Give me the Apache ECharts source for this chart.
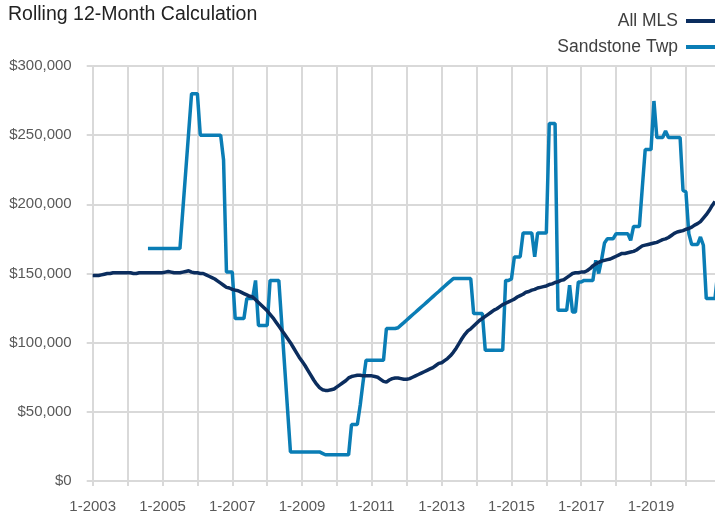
<!DOCTYPE html>
<html>
<head>
<meta charset="utf-8">
<script src="https://cdn.jsdelivr.net/npm/echarts@6/dist/echarts.min.js"></script>
<style>html,body{margin:0;padding:0;background:#fff}#c{width:715px;height:515px}</style>
</head>
<body>
<div id="c"></div>
<script>
// Monthly categories 1-2003 .. 11-2020
var startYear = 2003, monthCount = 215;
var categories = [];
for (var k = 0; k < monthCount; k++) {
  categories.push(((k % 12) + 1) + '-' + (startYear + Math.floor(k / 12)));
}

// All MLS rolling 12-month values (thousands of $)
var allMLS = [
  148.5,148.5,148.5,149,149.5,150,150,150.5,150.5,150.5,150.5,150.5,
  150.5,150.5,150,150,150.5,150.5,150.5,150.5,150.5,150.5,150.5,150.5,
  150.5,151,151.5,151,150.5,150.5,150.5,151,151.5,152,151,150.5,
  150.5,150,150,149,148,147,146,144.5,143,141.5,140,139.5,
  138.5,138,137.5,136.5,135.5,134.5,133.5,133,131,129,127,125,
  123,120.5,118,115,112,109,106,103,100,96.5,93,89.5,
  86.5,83.5,80,76.5,73,70,67.5,66,65.5,65.5,66,66.5,
  68,69.5,71,72.5,74.5,75.5,76,76.5,76.5,76,76,76,
  76,75.5,75,73.5,72,71.5,73,74,74.5,74.5,74,73.5,
  73.5,74,75,76,77,78,79,80,81,82,83.5,85,
  85.5,87,88.5,90.5,93,96,99.5,103,106,108.5,110,112,
  114,116,117.5,119,120.5,122,123.5,124.5,126,127.5,128.5,129.5,
  130.5,131.5,133,134,135,136.5,137,138,138.5,139.5,140,140.5,
  141,142,142.5,143.5,144,145,145.5,147,148.5,150,150.5,150.5,
  151,151,152,153.5,155.5,157,158,159,159.5,160,160.5,161.5,
  162.5,163.5,164.5,164.5,165,165.5,166,167,168.5,170,170.5,171,
  171.5,172,172.5,173.5,174.5,175,176,177.5,179,180,180.5,181,
  182,182.5,183.5,185,186,187.5,190,192.5,195.5,199,202
];

// Sandstone Twp rolling 12-month values (thousands of $), null = no data
var sandstone = [
  null,null,null,null,null,null,null,null,null,null,null,null,
  null,null,null,null,null,null,null,168,168,168,168,168,
  168,168,168,168,168,168,168,196,224,252,280,280,280,250,250,250,
  250,250,250,250,250,232,151,151,151,117.4,117.4,117.4,117.4,132,
  132,132,145,112.5,112.5,112.5,112.5,145,145,145,145,114,83,52,
  21,21,21,21,21,21,21,21,21,21,21,20,
  19,19,19,19,19,19,19,19,19,40.8,40.8,40.8,55,72,87.3,87.3,
  87.3,87.3,87.3,87.3,87.3,110.2,110.2,110.2,110.2,110.8,112.7,114.5,
  116.4,118.3,120.2,122,123.9,125.8,127.6,129.5,131.4,133.3,135.2,137,
  138.9,140.8,142.7,144.5,146.3,146.3,146.3,146.3,146.3,146.3,146.3,121,
  121,121,121,94.5,94.5,94.5,94.5,94.5,94.5,94.5,145,145,
  146,162,162,162,179.3,179.3,179.3,179.3,162,179.3,179.3,179.3,
  179.3,258.4,258.4,258.4,123.4,123.4,123.4,123.4,141.5,122.2,122.2,143.9,
  143.9,145,145,145,145,159.5,150,160,172,175.2,175.2,175.2,
  178.8,178.8,178.8,178.8,178.8,174,184,184,184,212,239.6,239.6,
  239.6,274.7,248.3,248.3,248.3,253,248.3,248.3,248.3,248.3,248.3,210,
  209,178.8,170.9,170.9,170.9,176.4,170.4,131.9,131.9,131.9,131.9,152
];

var yTicks = [0, 50000, 100000, 150000, 200000, 250000, 300000];

function toDollars(arr) {
  return arr.map(function (v) { return v == null ? null : v * 1000; });
}

var chart = echarts.init(document.getElementById('c'), null, {renderer: 'canvas'});
var gridColor = '#d9d9d9';
var option = {
  animation: false,
  backgroundColor: '#ffffff',
  title: {
    text: 'Rolling 12-Month Calculation',
    left: 3, top: 0,
    textStyle: {fontFamily: 'Liberation Sans, Arial, sans-serif', fontSize: 19.5, fontWeight: 'normal', color: '#222222'}
  },
  legend: {
    orient: 'vertical',
    right: -12, top: 7,
    align: 'right',
    icon: 'rect',
    itemWidth: 36, itemHeight: 4,
    itemGap: 8,
    textStyle: {fontFamily: 'Liberation Sans, Arial, sans-serif', fontSize: 17.5, color: '#404040', padding: [0, 3, 0, 0]},
    data: ['All MLS', 'Sandstone Twp']
  },
  grid: {left: 92.7, right: 0, top: 66, bottom: 34, containLabel: false},
  xAxis: {
    type: 'category',
    data: categories,
    boundaryGap: false,
    axisLine: {show: true, lineStyle: {color: gridColor, width: 2}},
    axisTick: {show: true, interval: 11, length: 5, lineStyle: {color: gridColor, width: 2}},
    axisLabel: {interval: 23, margin: 18, color: '#595959', fontSize: 15, fontFamily: 'Liberation Sans, Arial, sans-serif'},
    splitLine: {show: true, interval: 11, lineStyle: {color: gridColor, width: 2}}
  },
  yAxis: {
    type: 'value',
    min: yTicks[0], max: yTicks[yTicks.length - 1], interval: 50000,
    axisLine: {show: true, lineStyle: {color: gridColor, width: 2}},
    axisTick: {show: true, length: 6, lineStyle: {color: gridColor, width: 2}},
    axisLabel: {
      margin: 21, color: '#595959', fontSize: 15, fontFamily: 'Liberation Sans, Arial, sans-serif',
      formatter: function (v) { return '$' + v.toLocaleString('en-US'); }
    },
    splitLine: {show: true, lineStyle: {color: gridColor, width: 2}}
  },
  series: [
    {
      name: 'All MLS', type: 'line', data: toDollars(allMLS),
      showSymbol: false, symbol: 'none',
      lineStyle: {color: '#0b2d5e', width: 3.5}, itemStyle: {color: '#0b2d5e'}, z: 3
    },
    {
      name: 'Sandstone Twp', type: 'line', data: toDollars(sandstone),
      showSymbol: false, symbol: 'none', connectNulls: false,
      lineStyle: {color: '#0a7db5', width: 3.5}, itemStyle: {color: '#0a7db5'}, z: 2
    }
  ]
};
chart.setOption(option);
</script>
</body>
</html>
